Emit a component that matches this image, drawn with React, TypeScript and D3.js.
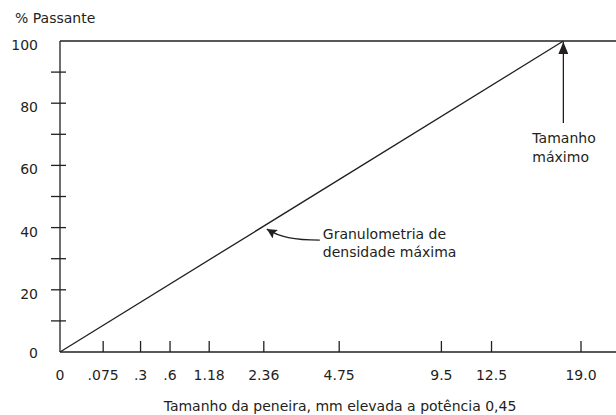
import React from "react";
import * as d3 from "d3";

const sieveSizes = [0, 0.075, 0.3, 0.6, 1.18, 2.36, 4.75, 9.5, 12.5, 19.0];
const sieveLabels = ["0", ".075", ".3", ".6", "1.18", "2.36", "4.75", "9.5", "12.5", "19.0"];
const yTickValues = [0, 10, 20, 30, 40, 50, 60, 70, 80, 90, 100];
const yLabelValues = [0, 20, 40, 60, 80, 100];
const lineSizes = [0, 17.6];
const linePassing = [0, 100];
const maxDensitySize = 2.36;

const W = 616;
const H = 415;
const INK = "#231f20";
const FONT = "'DejaVu Sans', sans-serif";

export default function App() {
  const x = d3.scalePow().exponent(0.45).domain([0, 19]).range([60, 581]);
  const y = d3.scaleLinear().domain([0, 100]).range([352, 41]);

  const data = lineSizes.map((s, i) => ({ s, p: linePassing[i] }));
  const line = d3
    .line<{ s: number; p: number }>()
    .x((d) => x(d.s))
    .y((d) => y(d.p));

  const maxSize = lineSizes[lineSizes.length - 1];
  const pAt = (s: number) => 100 * Math.pow(s / maxSize, 0.45);
  const gx = x(maxDensitySize);
  const gy = y(pAt(maxDensitySize));
  const curve = d3.path();
  curve.moveTo(gx + 56, gy + 14);
  curve.bezierCurveTo(gx + 30, gy + 14, gx + 16, gy + 11, gx + 3, gy + 3);

  const mx = x(maxSize);
  const my = y(100);

  return (
    <svg width={W} height={H} style={{ position: "absolute", left: 0, top: 0, background: "#fff" }}>
      <defs>
        <marker id="ah" viewBox="0 0 10 10" refX="10" refY="5" markerWidth="10" markerHeight="10" markerUnits="userSpaceOnUse" orient="auto">
          <path d="M0,0 L10,5 L0,10 L2,5 Z" fill={INK} />
        </marker>
        <marker id="ah2" viewBox="0 0 12 10" refX="12" refY="5" markerWidth="12" markerHeight="10" markerUnits="userSpaceOnUse" orient="auto">
          <path d="M0,0 L12,5 L0,10 Z" fill={INK} />
        </marker>
      </defs>
      <g fontFamily={FONT} fill={INK} fontSize={14}>
        <text x={15} y={23}>% Passante</text>
        {/* axes */}
        <line x1={60} x2={W} y1={y(0)} y2={y(0)} stroke={INK} strokeWidth={1.3} />
        <line x1={60} x2={60} y1={y(0)} y2={y(100)} stroke={INK} strokeWidth={1.3} />
        <line x1={60} x2={W} y1={y(100)} y2={y(100)} stroke={INK} strokeWidth={1.3} />
        {yTickValues.filter((v) => v > 0 && v < 100).map((v) => (
          <line key={"yt" + v} x1={51} x2={66} y1={y(v)} y2={y(v)} stroke={INK} strokeWidth={1.3} />
        ))}
        {yLabelValues.map((v) => (
          <text key={"yl" + v} x={38} y={y(v) + (v === 0 ? 6 : 9)} textAnchor="end">
            {String(v)}
          </text>
        ))}
        {sieveSizes.filter((s) => s > 0).map((s) => (
          <line key={"xt" + s} x1={x(s)} x2={x(s)} y1={y(0)} y2={y(0) - 11} stroke={INK} strokeWidth={1.3} />
        ))}
        {sieveSizes.map((s, i) => (
          <text key={"xl" + s} x={x(s)} y={380} textAnchor="middle">
            {sieveLabels[i]}
          </text>
        ))}
        <text x={340} y={411} textAnchor="middle">
          Tamanho da peneira, mm elevada a potência 0,45
        </text>
        {/* data line */}
        <path d={line(data) || ""} fill="none" stroke={INK} strokeWidth={1.3} />
        {/* annotations */}
        <path d={curve.toString()} fill="none" stroke={INK} strokeWidth={1.3} markerEnd="url(#ah)" />
        <text x={gx + 59} y={gy + 13}>Granulometria de</text>
        <text x={gx + 59} y={gy + 31}>densidade máxima</text>
        <line x1={mx} x2={mx} y1={my + 82} y2={my + 1} stroke={INK} strokeWidth={1.3} markerEnd="url(#ah2)" />
        <text x={mx - 31} y={143}>Tamanho</text>
        <text x={mx - 31} y={162}>máximo</text>
      </g>
    </svg>
  );
}
